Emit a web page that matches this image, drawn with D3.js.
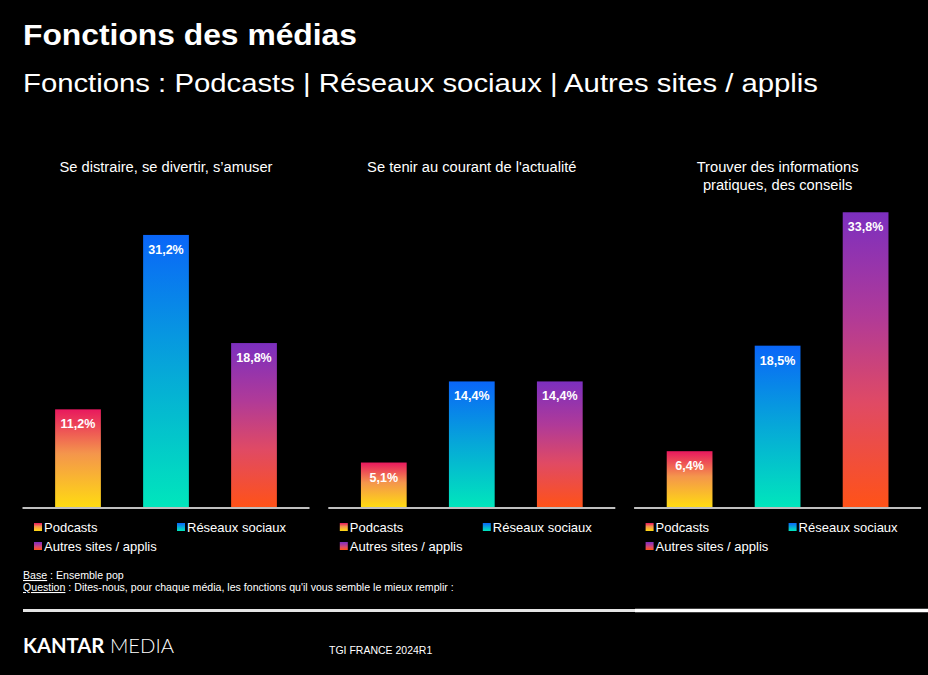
<!DOCTYPE html>
<html><head><meta charset="utf-8">
<script src="https://cdn.jsdelivr.net/npm/d3@7"></script>
<style>
html,body{margin:0;padding:0;background:#000;}
svg{display:block;font-family:"Liberation Sans",Arial,sans-serif;}
</style></head>
<body>
<script>
// ---- data ----
const panels = ["Se distraire, se divertir, s\u2019amuser", "Se tenir au courant de l'actualité", "Trouver des informations|pratiques, des conseils"];
const series = ["Podcasts", "Réseaux sociaux", "Autres sites / applis"];
const podcasts = [11.2, 5.1, 6.4];
const reseaux = [31.2, 14.4, 18.5];
const autres = [18.8, 14.4, 33.8];
const values = [podcasts, reseaux, autres];

const W = 928, H = 675;
const svg = d3.select("body").append("svg").attr("width", W).attr("height", H);
svg.append("rect").attr("width", W).attr("height", H).attr("fill", "#000");

// gradients
const defs = svg.append("defs");
const gradStops = [
  [["0%", "#e8185e"], ["45%", "#f4954c"], ["100%", "#ffdb12"]],
  [["0%", "#0a66f8"], ["50%", "#06a8d8"], ["100%", "#00e6bc"]],
  [["0%", "#7c2fbf"], ["35%", "#b03a98"], ["65%", "#e04a64"], ["100%", "#ff5218"]]
];
gradStops.forEach((stops, i) => {
  const g = defs.append("linearGradient").attr("id", "g" + i)
    .attr("x1", 0).attr("y1", 0).attr("x2", 0).attr("y2", 1);
  stops.forEach(s => g.append("stop").attr("offset", s[0]).attr("stop-color", s[1]));
});

// titles
svg.append("text").attr("x", 23).attr("y", 45).attr("fill", "#fff")
  .attr("font-size", 29).attr("font-weight", "bold")
  .attr("textLength", 334).attr("lengthAdjust", "spacingAndGlyphs").text("Fonctions des médias");
svg.append("text").attr("x", 23).attr("y", 92).attr("fill", "#fff")
  .attr("font-size", 26).attr("textLength", 795).attr("lengthAdjust", "spacingAndGlyphs")
  .text("Fonctions : Podcasts | Réseaux sociaux | Autres sites / applis");

const y = d3.scaleLinear().domain([0, 35]).range([507, 507 - 35 * 8.72]);
const panelStep = 305.8;

panels.forEach((title, p) => {
  const x0 = 22 + p * panelStep;
  const g = svg.append("g");
  const x = d3.scaleBand().domain(series).range([x0 + 12, x0 + 276])
    .paddingInner(0.48).paddingOuter(0.24);
  const cx = x0 + 144;
  const lines = title.split("|");
  lines.forEach((l, i) => {
    g.append("text").attr("x", cx).attr("y", 172 + i * 18).attr("text-anchor", "middle")
      .attr("fill", "#fff").attr("font-size", 14.7).text(l);
  });
  series.forEach((s, si) => {
    const v = values[si][p];
    g.append("rect").attr("x", x(s)).attr("width", x.bandwidth())
      .attr("y", y(v)).attr("height", y(0) - y(v)).attr("fill", `url(#g${si})`);
    g.append("text").attr("x", x(s) + x.bandwidth() / 2).attr("y", y(v) + 19)
      .attr("text-anchor", "middle").attr("fill", "#fff").attr("font-size", 12.5)
      .attr("font-weight", "bold").text(d3.format(".1f")(v).replace(".", ",") + "%");
  });
  // axis baseline
  const axis = d3.axisBottom(d3.scaleLinear().range([x0, x0 + 287])).ticks(0).tickSize(0).tickFormat("");
  const ag = g.append("g").attr("transform", "translate(0,507.5)").call(axis);
  ag.select(".domain").attr("stroke", "#fff").attr("stroke-width", 1.5);

  // legend
  const legPos = [[x0 + 12, 523], [x0 + 155, 523], [x0 + 12, 542]];
  series.forEach((s, si) => {
    const [lx, ly] = legPos[si];
    g.append("rect").attr("x", lx).attr("y", ly).attr("width", 8).attr("height", 8)
      .attr("fill", `url(#g${si})`);
    g.append("text").attr("x", lx + 10).attr("y", ly + 8.5).attr("fill", "#fff")
      .attr("font-size", 13).text(s);
  });
});

// footer
const f1 = svg.append("text").attr("x", 23).attr("y", 579).attr("fill", "#fff").attr("font-size", 10.6);
f1.append("tspan").attr("text-decoration", "underline").text("Base");
f1.append("tspan").text(" : Ensemble pop");
const f2 = svg.append("text").attr("x", 23).attr("y", 591).attr("fill", "#fff").attr("font-size", 10.6);
f2.append("tspan").attr("text-decoration", "underline").text("Question");
f2.append("tspan").text(" : Dites-nous, pour chaque média, les fonctions qu'il vous semble le mieux remplir :");

svg.append("line").attr("x1", 23).attr("x2", 635).attr("y1", 610.5).attr("y2", 610.5)
  .attr("stroke", "#e4e4e4").attr("stroke-width", 3);
svg.append("line").attr("x1", 635).attr("x2", 928).attr("y1", 610.5).attr("y2", 610.5)
  .attr("stroke", "#fff").attr("stroke-width", 3.4);

const logo = svg.append("text").attr("x", 23).attr("y", 653).attr("fill", "#fff")
  .attr("font-family", "Lato, 'Liberation Sans', sans-serif").attr("font-size", 20)
  .attr("textLength", 151).attr("lengthAdjust", "spacingAndGlyphs");
logo.append("tspan").attr("font-weight", "bold").text("KANTAR");
logo.append("tspan").attr("font-weight", 300).text(" MEDIA");

svg.append("text").attr("x", 329).attr("y", 654).attr("fill", "#fff").attr("font-size", 10.5)
  .text("TGI FRANCE 2024R1");
</script>
</body></html>
